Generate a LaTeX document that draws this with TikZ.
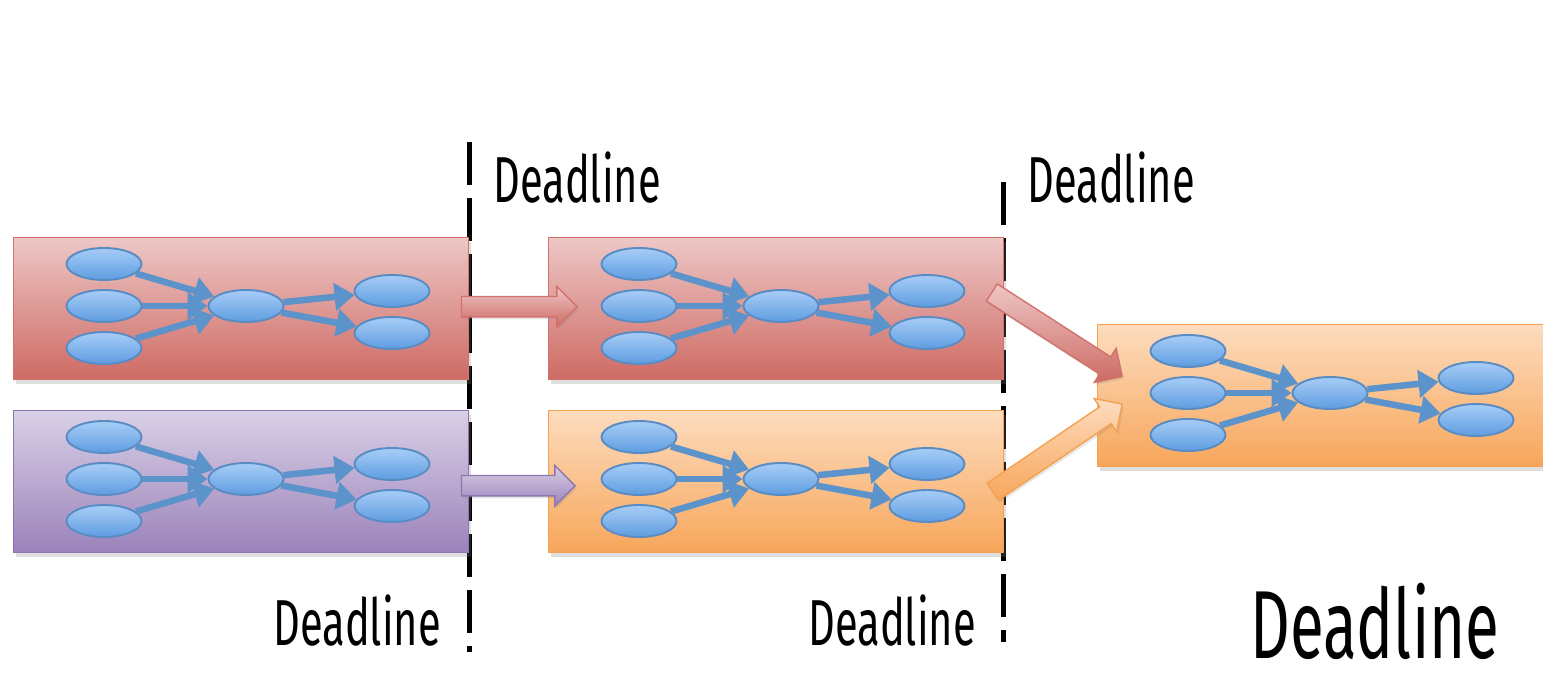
\documentclass[tikz,border=0pt]{standalone}
\usepackage{fontspec}
\newfontfamily\deadlinefont[FakeStretch=0.64]{Fira Sans}
\usetikzlibrary{%
  arrows.meta,%
  calc,%
  positioning,%
  shapes.geometric,% ellipse
  shapes.arrows,% single arrow
  shadows%
}

\definecolor{redtop}{HTML}{EDC7C6}
\definecolor{redbottom}{HTML}{CE6A63}
\definecolor{redline}{HTML}{D3716C}
\definecolor{purpletop}{HTML}{D9D0E6}
\definecolor{purplebottom}{HTML}{9B82BA}
\definecolor{purpleline}{HTML}{8E76AE}
\definecolor{orangetop}{HTML}{FDDCBF}
\definecolor{orangebottom}{HTML}{F7A65A}
\definecolor{orangeline}{HTML}{F6A150}
\definecolor{jobtop}{HTML}{A8CDF7}
\definecolor{jobbottom}{HTML}{5E9DE0}
\definecolor{jobline}{HTML}{5A8CC4}
\definecolor{linkblue}{HTML}{5B93CA}

% block arrow from one coordinate to another
\newcommand{\handover}[3]{%
  \path let \p1=($(#3)-(#2)$), \n1={atan2(\y1,\x1)}, \n2={veclen(\x1,\y1)} in
    node[#1, minimum height=\n2, rotate=\n1] at ($(#2)!0.5!(#3)$) {};}

\begin{document}
\begin{tikzpicture}
[x=0.02cm, y=-0.02cm, >={Triangle[length=0.4cm,width=0.54cm]},
stage/.style={rectangle, anchor=north west, inner sep=0pt, minimum height=2.84cm, line width=0.8pt,
  drop shadow={opacity=0.25, shadow xshift=0.04cm, shadow yshift=-0.08cm}},
red stage/.style={draw=redline, top color=redtop, bottom color=redbottom},
purple stage/.style={draw=purpleline, top color=purpletop, bottom color=purplebottom},
orange stage/.style={draw=orangeline, top color=orangetop, bottom color=orangebottom},
job/.style={ellipse, draw=jobline, line width=1.1pt, top color=jobtop, bottom color=jobbottom,
  inner sep=0pt, minimum width=1.5cm, minimum height=0.64cm},
link/.style={draw=linkblue, line width=0.13cm},
flow/.style={single arrow, single arrow head extend=0.2cm, text height=0.19cm, text depth=0.19cm,
  inner sep=0pt, line width=0.8pt,
  drop shadow={opacity=0.2, shadow xshift=0.03cm, shadow yshift=-0.05cm}},
red flow/.style={flow, draw=redline, top color=redtop, bottom color=redbottom},
purple flow/.style={flow, draw=purpleline, top color=purpletop, bottom color=purplebottom},
orange flow/.style={flow, draw=orangeline, top color=orangetop, bottom color=orangebottom},
cutoff/.style={line width=0.1cm, dash pattern=on 0.86cm off 0.26cm},
deadline/.style={font=\deadlinefont\fontsize{37}{40}\selectfont, anchor=base west, inner sep=0pt}]

\useasboundingbox (0,0) rectangle (1543,686);

% the two cut-off lines
\coordinate (cut1 top) at (469,142);
\coordinate (cut1 bottom) at (469,652);
\coordinate (cut2 top) at (1003,182);
\coordinate (cut2 bottom) at (1003,642);
\draw[cutoff] (cut1 top) -- (cut1 bottom);
\draw[cutoff] (cut2 top) -- (cut2 bottom);

% stages, each with the same small job graph
\foreach \b/\x/\y/\w/\c in {a/13/237/455/red, b/13/410/455/purple, c/548/237/455/red,
                            d/548/410/455/orange, e/1097/324/470/orange}
{
  \node[stage, \c\space stage, minimum width=\w*0.02cm] (\b) at (\x,\y) {};
  \node[job] (\b l1) at (\x+91,\y+27) {};
  \node[job] (\b l2) at (\x+91,\y+69) {};
  \node[job] (\b l3) at (\x+91,\y+111) {};
  \node[job] (\b c) at (\x+233,\y+69) {}
    edge [<-, link] (\b l1)
    edge [<-, link] (\b l2)
    edge [<-, link] (\b l3);
  \node[job] (\b r1) at (\x+379,\y+54) {}
    edge [<-, link] (\b c);
  \node[job] (\b r2) at (\x+379,\y+96) {}
    edge [<-, link] (\b c);
}

% hand-over arrows between stages
\coordinate (ac tail) at ($(a.east)+(-13,-2)$);
\coordinate (ac tip) at ($(c.west)+(24,-2)$);
\coordinate (bd tail) at ($(b.east)+(-13,4)$);
\coordinate (bd tip) at ($(d.west)+(22,4)$);
\coordinate (ce tail) at ($(c.east)+(-17,-19)$);
\coordinate (ce tip) at ($(e.west)+(21,-22)$);
\coordinate (de tail) at ($(d.east)+(-16,13)$);
\coordinate (de tip) at ($(e.west)+(21,11)$);
\handover{red flow}{ac tail}{ac tip}
\handover{purple flow}{bd tail}{bd tip}
\handover{red flow}{ce tail}{ce tip}
\handover{orange flow}{de tail}{de tip}

% labels
\node[deadline] (dl1) at (493,203) {Deadline};
\node[deadline] (dl2) at (1027,203) {Deadline};
\node[deadline] (dl3) at (273,645) {Deadline};
\node[deadline] (dl4) at (808,645) {Deadline};
\node[deadline, font=\deadlinefont\fontsize{55}{60}\selectfont] (dl5) at (1250,658) {Deadline};
\end{tikzpicture}
\end{document}
